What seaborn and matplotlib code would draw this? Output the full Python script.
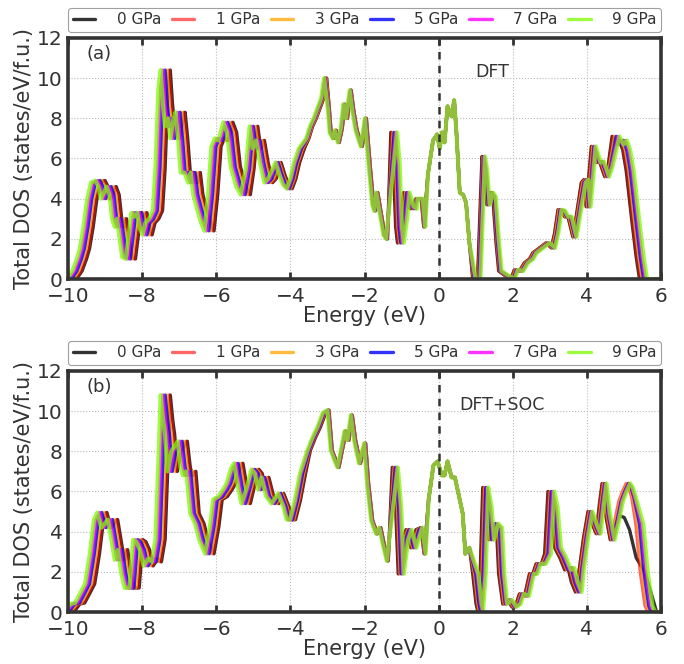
import numpy as np
import matplotlib
matplotlib.use('Agg')
import matplotlib.pyplot as plt
import seaborn as sns

labels = ['0 GPa', '1 GPa', '3 GPa', '5 GPa', '7 GPa', '9 GPa']
colors = ['black', 'red', 'orange', 'blue', 'magenta', 'lawngreen']
alphas = [0.8, 0.6, 0.75, 0.8, 0.8, 0.75]

# ---- panel (a), DFT: 0 GPa curve
energy_a = [-10.0, -9.75, -9.62, -9.5, -9.42, -9.32, -9.22, -9.12, -9.0, -8.92,
            -8.85, -8.77, -8.7, -8.62, -8.55, -8.48, -8.42, -8.36, -8.28, -8.18,
            -8.1, -8.03, -7.95, -7.87, -7.8, -7.73, -7.65, -7.55, -7.45, -7.38,
            -7.3, -7.24, -7.18, -7.12, -7.04, -6.98, -6.9, -6.84, -6.77, -6.7,
            -6.6, -6.5, -6.43, -6.36, -6.26, -6.15, -6.06, -5.96, -5.87, -5.78,
            -5.68, -5.55, -5.45, -5.35, -5.2, -5.08, -4.98, -4.88, -4.8, -4.7,
            -4.6, -4.48, -4.38, -4.25, -4.15, -4.05, -3.95, -3.85, -3.75, -3.62,
            -3.5, -3.4, -3.3, -3.2, -3.1, -3.02, -2.95, -2.9, -2.82, -2.76,
            -2.68, -2.6, -2.53, -2.46, -2.36, -2.29, -2.2, -2.06, -1.95, -1.84,
            -1.75, -1.7, -1.64, -1.56, -1.45, -1.38, -1.29, -1.22, -1.16, -1.11,
            -1.02, -0.95, -0.84, -0.75, -0.61, -0.47, -0.4, -0.29, -0.15, -0.04,
            0.03, 0.09, 0.16, 0.24, 0.35, 0.42, 0.48, 0.57, 0.66, 0.74,
            0.83, 0.92, 1.05, 1.1, 1.17, 1.23, 1.3, 1.39, 1.46, 1.55,
            1.62, 1.82, 1.95, 2.04, 2.18, 2.31, 2.45, 2.54, 2.72, 2.9,
            3.04, 3.13, 3.22, 3.31, 3.4, 3.49, 3.62, 3.71, 3.85, 3.92,
            3.98, 4.12, 4.25, 4.34, 4.48, 4.57, 4.68, 4.79, 4.88, 4.97,
            5.06, 5.2, 5.33, 5.42, 6.0]
dos_a = [0.0, 0.05, 0.4, 1.0, 1.5, 2.6, 4.0, 4.8, 4.9, 4.6,
         4.0, 4.3, 4.6, 4.2, 3.0, 2.6, 3.0, 2.2, 1.1, 1.0,
         2.2, 3.3, 3.1, 3.3, 2.5, 2.2, 2.8, 3.0, 3.4, 5.5,
         9.5, 10.4, 8.7, 7.6, 8.0, 7.0, 7.9, 8.3, 7.0, 5.3,
         5.3, 4.8, 5.3, 4.2, 3.5, 2.8, 2.4, 4.2, 6.6, 7.0,
         6.9, 7.8, 7.3, 5.6, 4.6, 4.2, 5.5, 7.6, 6.5, 6.9,
         5.8, 4.8, 5.0, 5.8, 5.2, 4.7, 4.5, 5.0, 5.8, 6.5,
         7.0, 7.6, 8.0, 8.5, 9.0, 10.0, 8.5, 7.3, 7.0, 7.4,
         6.8, 7.5, 8.7, 8.0, 9.4, 8.4, 7.4, 6.6, 8.0, 5.5,
         3.7, 3.4, 4.3, 3.4, 2.2, 2.0, 7.3, 5.7, 2.6, 1.8,
         3.0, 4.3, 3.6, 3.5, 4.0, 4.0, 2.6, 5.2, 6.9, 7.2,
         6.5, 7.3, 6.8, 8.6, 8.1, 8.9, 7.3, 4.3, 4.2, 3.8,
         1.8, 0.0, 0.0, 2.5, 6.1, 5.4, 3.7, 4.3, 4.1, 1.8,
         0.4, 0.13, 0.0, 0.45, 0.4, 0.8, 1.0, 1.3, 1.55, 1.8,
         1.55, 2.3, 3.45, 3.4, 3.1, 3.1, 2.1, 3.1, 4.8, 4.95,
         3.6, 6.6, 5.8, 5.85, 5.1, 5.6, 7.1, 6.7, 6.9, 6.4,
         5.4, 3.1, 1.1, 0.0, 0.0]

# energy windows and the band shift (eV) of each pressure in them, panel (a)
edges_a = [-5.0, -4.3, -3.55, -2.98, -1.33, -0.65, -0.35, 0.88, 1.75, 3.8, 4.62]
shift_a_0gpa = [0.0] * 12
shift_a_1gpa = [-0.03, -0.02, -0.02, -0.01, 0.0, 0.02, 0.0, 0.0, 0.01, 0.01, 0.01, 0.02]
shift_a_3gpa = [-0.09, -0.07, -0.05, -0.02, -0.01, 0.06, 0.01, 0.0, 0.03, 0.03, 0.04, 0.07]
shift_a_5gpa = [-0.14, -0.12, -0.08, -0.04, -0.02, 0.09, 0.02, 0.0, 0.04, 0.06, 0.07, 0.11]
shift_a_7gpa = [-0.20, -0.17, -0.12, -0.05, -0.03, 0.13, 0.03, 0.0, 0.06, 0.08, 0.09, 0.16]
shift_a_9gpa = [-0.26, -0.22, -0.15, -0.07, -0.04, 0.17, 0.04, 0.0, 0.08, 0.10, 0.12, 0.20]

# ---- panel (b), DFT+SOC: curve shared below 4.6 eV
energy_b = [-10.0, -9.8, -9.68, -9.55, -9.42, -9.28, -9.15, -9.04, -8.95, -8.84,
            -8.75, -8.66, -8.57, -8.48, -8.39, -8.3, -8.21, -8.08, -7.98, -7.9,
            -7.8, -7.7, -7.58, -7.48, -7.38, -7.3, -7.24, -7.17, -7.12, -7.05,
            -6.95, -6.85, -6.78, -6.7, -6.64, -6.55, -6.46, -6.33, -6.22, -6.06,
            -5.93, -5.84, -5.7, -5.57, -5.48, -5.35, -5.28, -5.17, -5.08, -4.99,
            -4.85, -4.76, -4.67, -4.58, -4.45, -4.31, -4.18, -4.04, -3.95, -3.86,
            -3.73, -3.59, -3.46, -3.32, -3.19, -3.05, -2.96, -2.87, -2.78, -2.69,
            -2.56, -2.5, -2.42, -2.33, -2.24, -2.11, -1.97, -1.89, -1.78, -1.65,
            -1.56, -1.47, -1.36, -1.25, -1.16, -1.09, -0.97, -0.88, -0.75, -0.61,
            -0.48, -0.39, -0.27, -0.14, -0.03, 0.09, 0.16, 0.24, 0.35, 0.44,
            0.57, 0.65, 0.72, 0.83, 0.92, 1.01, 1.05, 1.12, 1.19, 1.28,
            1.35, 1.46, 1.56, 1.62, 1.73, 1.86, 1.98, 2.09, 2.18, 2.32,
            2.45, 2.54, 2.63, 2.77, 2.86, 2.95, 3.04, 3.13, 3.27, 3.4,
            3.49, 3.58, 3.69, 3.8, 3.91, 4.03, 4.14, 4.25, 4.34, 4.41,
            4.5, 4.63]
dos_b = [0.0, 0.1, 0.4, 0.45, 0.9, 1.4, 2.9, 4.6, 4.95, 4.2,
         4.4, 4.6, 3.6, 2.6, 3.1, 1.9, 1.2, 1.2, 3.6, 3.5,
         3.1, 2.3, 2.65, 2.5, 3.6, 7.5, 10.8, 9.5, 8.8, 7.0,
         8.0, 8.3, 8.5, 7.2, 6.8, 7.0, 4.9, 4.4, 3.6, 2.9,
         4.25, 5.6, 5.75, 6.1, 6.4, 7.2, 7.4, 6.2, 5.4, 6.1,
         7.1, 6.9, 6.1, 6.7, 5.75, 5.4, 5.9, 5.25, 4.6, 4.6,
         5.55, 6.9, 8.05, 8.7, 9.2, 9.9, 10.05, 8.05, 7.6, 7.2,
         8.4, 9.0, 8.55, 9.8, 8.55, 7.4, 8.4, 6.4, 4.55, 3.9,
         4.2, 3.4, 2.55, 7.2, 5.2, 1.9, 3.6, 4.1, 3.2, 4.1,
         4.2, 2.9, 5.6, 7.3, 7.5, 6.8, 6.8, 7.5, 6.7, 6.7,
         5.6, 4.9, 2.9, 3.2, 1.9, 0.4, 0.1, 1.9, 6.2, 5.2,
         3.6, 4.4, 4.2, 1.9, 0.4, 0.6, 0.25, 0.4, 0.9, 0.8,
         1.9, 1.9, 2.4, 2.4, 2.9, 6.0, 5.2, 3.2, 2.7, 2.1,
         2.2, 1.5, 1.0, 2.2, 3.7, 5.0, 4.4, 3.9, 5.4, 6.4,
         4.9, 3.6]
# top of the conduction band: 0 GPa differs from the rest
tail_energy_b_0gpa = [4.74, 4.88, 5.01, 5.15, 5.33, 5.56, 5.74, 5.88, 6.0]
tail_dos_b_0gpa = [4.2, 4.8, 4.7, 4.1, 2.7, 2.0, 0.9, 0.0, 0.0]
tail_energy_b = [4.74, 4.85, 4.95, 5.05, 5.12, 5.2, 5.3, 5.42, 5.55, 5.62, 6.0]
tail_dos_b = [4.5, 5.5, 6.0, 6.4, 6.2, 5.7, 4.4, 2.0, 0.3, 0.0, 0.0]

edges_b = [-6.5, -5.0, -4.3, -3.5, -3.0, -1.3, -0.5, -0.3, 0.9, 1.7, 2.8, 3.8, 5.25]
shift_b_0gpa = [0.0] * 14
shift_b_1gpa = [-0.03, -0.03, -0.02, -0.02, -0.01, 0.0, 0.02, 0.0, 0.0, 0.02, 0.01, 0.02, 0.01, 0.02]
shift_b_3gpa = [-0.09, -0.08, -0.07, -0.05, -0.03, -0.01, 0.05, 0.01, 0.0, 0.05, 0.04, 0.06, 0.04, 0.07]
shift_b_5gpa = [-0.14, -0.13, -0.11, -0.08, -0.04, -0.02, 0.08, 0.02, 0.0, 0.08, 0.07, 0.09, 0.07, 0.12]
shift_b_7gpa = [-0.20, -0.19, -0.16, -0.12, -0.06, -0.03, 0.12, 0.03, 0.0, 0.12, 0.09, 0.13, 0.09, 0.17]
shift_b_9gpa = [-0.26, -0.24, -0.20, -0.15, -0.08, -0.04, 0.15, 0.04, 0.0, 0.15, 0.12, 0.17, 0.12, 0.22]


def shifted(energy, edges, shift):
    e = np.asarray(energy, dtype=float)
    return e + np.asarray(shift)[np.searchsorted(edges, e, side='right')]


sns.set_style('whitegrid')
plt.rcParams['font.family'] = ['DejaVu Sans']
plt.rcParams['lines.solid_joinstyle'] = 'round'
plt.rcParams['lines.solid_capstyle'] = 'round'
text_c = '#333333'

fig = plt.figure(figsize=(6.84, 6.64), dpi=100)
ax_a = fig.add_axes([0.0994, 0.5798, 0.867, 0.363])
ax_b = fig.add_axes([0.0994, 0.0783, 0.867, 0.363])

shifts_a = [shift_a_0gpa, shift_a_1gpa, shift_a_3gpa, shift_a_5gpa, shift_a_7gpa, shift_a_9gpa]
shifts_b = [shift_b_0gpa, shift_b_1gpa, shift_b_3gpa, shift_b_5gpa, shift_b_7gpa, shift_b_9gpa]

for i, lab in enumerate(labels):
    lw = 3.0 if i == 5 else 2.4
    e = shifted(energy_a, edges_a, shifts_a[i])
    sns.lineplot(x=e, y=dos_a, ax=ax_a, color=colors[i], alpha=alphas[i],
                 lw=lw, label=lab, sort=False, estimator=None)
    if i == 0:
        eb = energy_b + tail_energy_b_0gpa
        db = dos_b + tail_dos_b_0gpa
    else:
        eb = energy_b + tail_energy_b
        db = dos_b + tail_dos_b
    e = shifted(eb, edges_b, shifts_b[i])
    sns.lineplot(x=e, y=db, ax=ax_b, color=colors[i], alpha=alphas[i],
                 lw=lw, label=lab, sort=False, estimator=None)

for ax, tag, name in [(ax_a, '(a)', 'DFT'), (ax_b, '(b)', 'DFT+SOC')]:
    ax.set_xlim(-10, 6)
    ax.set_ylim(0, 12)
    ax.set_xticks(range(-10, 7, 2))
    ax.set_yticks(range(0, 13, 2))
    ax.axvline(0, color='#333333', ls='--', lw=1.8, dashes=(3, 2.5))
    ax.grid(True, ls=':', color='#bbbbbb', lw=0.8)
    for s in ax.spines.values():
        s.set_color('#333333')
        s.set_linewidth(2.6)
    ax.tick_params(axis='x', direction='in', top=True, bottom=True, length=5,
                   width=2, color='#333333', labelsize=14.5, labelcolor=text_c, pad=6)
    ax.tick_params(axis='y', length=0, labelsize=14.5, labelcolor=text_c, pad=4)
    ax.set_xlabel('Energy (eV)', fontsize=15, color=text_c, labelpad=0)
    ax.set_ylabel('Total DOS (states/eV/f.u.)', fontsize=15, color=text_c, labelpad=2)
    ax.text(-9.5, 11.2, tag, fontsize=13, color=text_c, va='center')
    ax.text(1.0 if name == 'DFT' else 0.55, 10.3, name, fontsize=12.5,
            color=text_c, va='center')
    leg = ax.legend(loc='lower left', bbox_to_anchor=(0.0, 1.025, 1.0, 0.1),
                    mode='expand', ncol=6, borderaxespad=0, fontsize=11,
                    handlelength=1.5, handletextpad=1.4, borderpad=0.3,
                    frameon=True, fancybox=True)
    leg.get_frame().set_edgecolor('#888888')
    leg.get_frame().set_linewidth(0.8)
    for t in leg.get_texts():
        t.set_color(text_c)
    for ln in leg.get_lines():
        ln.set_linewidth(2.4)

fig.savefig('out.png', dpi=100)
